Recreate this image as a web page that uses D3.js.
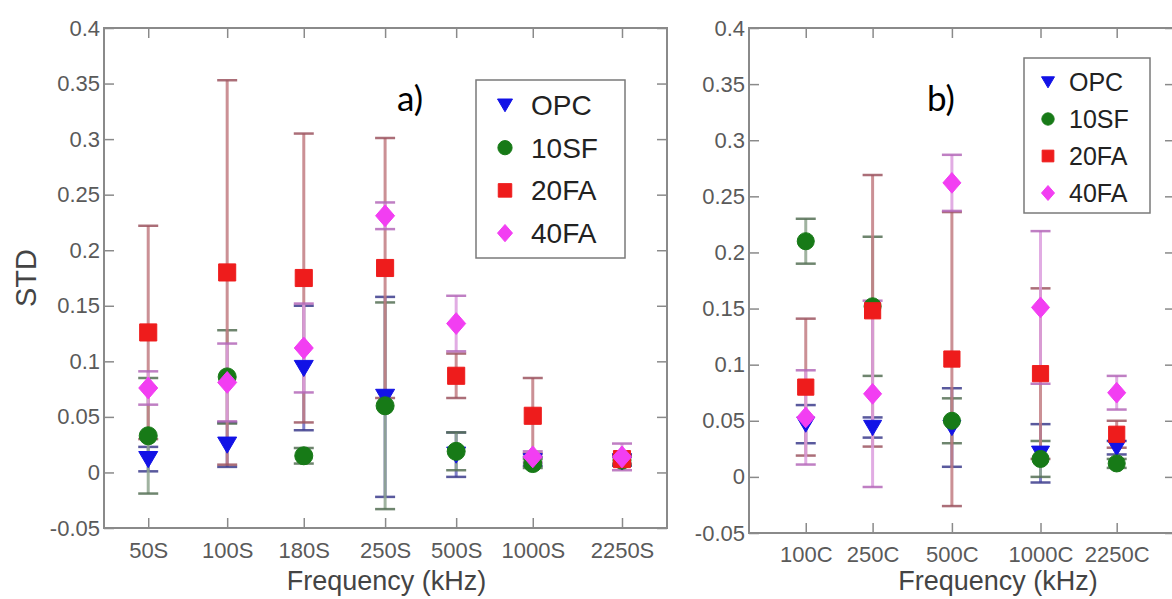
<!DOCTYPE html>
<html>
<head>
<meta charset="utf-8">
<script src="https://cdn.jsdelivr.net/npm/d3@7"></script>
<style>
  body { margin: 0; background: #fff; }
  svg { display: block; }
</style>
</head>
<body>
<svg id="chart" width="1172" height="599"></svg>
<script>
// ---- data, panel a) ----
var categoriesA = ['50S', '100S', '180S', '250S', '500S', '1000S', '2250S'];
var xPosA = [1, 2, 2.97, 4, 4.9, 5.87, 7];   // where MATLAB put each group
var opcA     = [0.012, 0.025, 0.094, 0.068, 0.016, 0.010, 0.010];
var opcErrA  = [0.011, 0.020, 0.056, 0.090, 0.020, 0.004, 0.004];
var sf10A    = [0.033, 0.086, 0.015, 0.060, 0.019, 0.008, 0.011];
var sf10ErrA = [0.052, 0.042, 0.007, 0.093, 0.017, 0.004, 0.004];
var fa20A    = [0.126, 0.180, 0.175, 0.184, 0.087, 0.051, 0.012];
var fa20ErrA = [0.096, 0.173, 0.130, 0.117, 0.020, 0.034, 0.004];
var fa40A    = [0.076, 0.081, 0.112, 0.231, 0.134, 0.014, 0.014];
var fa40ErrA = [0.015, 0.035, 0.040, 0.012, 0.025, 0.005, 0.012];

// ---- data, panel b) ----
var categoriesB = ['100C', '250C', '500C', '1000C', '2250C'];
var xPosB = [1, 1.86, 2.88, 4.02, 5];
var opcB     = [0.047, 0.044, 0.044, 0.021, 0.026];
var opcErrB  = [0.017, 0.009, 0.035, 0.026, 0.006];
var sf10B    = [0.210, 0.152, 0.050, 0.016, 0.012];
var sf10ErrB = [0.020, 0.062, 0.020, 0.016, 0.004];
var fa20B    = [0.080, 0.148, 0.105, 0.092, 0.038];
var fa20ErrB = [0.061, 0.121, 0.131, 0.076, 0.012];
var fa40B    = [0.053, 0.074, 0.262, 0.151, 0.075];
var fa40ErrB = [0.042, 0.083, 0.025, 0.068, 0.015];

var seriesNames = ['OPC', '10SF', '20FA', '40FA'];
var yTicks = [-0.05, 0, 0.05, 0.1, 0.15, 0.2, 0.25, 0.3, 0.35, 0.4];
var yTickLabels = ['-0.05', '0', '0.05', '0.1', '0.15', '0.2', '0.25', '0.3', '0.35', '0.4'];

var styles = {
    'OPC':  {fill: '#1212e6', err: '#6a6ac0', cap: '#3c3c8c', shape: 'tri'},
    '10SF': {fill: '#177a17', err: '#8fa68f', cap: '#557055', shape: 'circle'},
    '20FA': {fill: '#ee1c1c', err: '#c27c82', cap: '#9c5560', shape: 'square'},
    '40FA': {fill: '#f23ef2', err: '#dc9ede', cap: '#b468b8', shape: 'diamond'}
};

var svg = d3.select('#chart');
svg.append('rect').attr('width', 1172).attr('height', 599).attr('fill', '#fff');

var axisColor = '#8a8a8a';
var tickFont = 'Liberation Sans, Arial, sans-serif';

function markerPath(shape, s){
    // s = rough marker width in px
    var h = s / 2;
    if (shape == 'tri'){
        return 'M' + (-h) + ',' + (-h * 0.8) + 'L' + h + ',' + (-h * 0.8) + 'L0,' + (h * 0.9) + 'Z';
    } else if (shape == 'square'){
        var q = h * 0.9;
        return 'M' + (-q) + ',' + (-q) + 'H' + q + 'V' + q + 'H' + (-q) + 'Z';
    } else if (shape == 'diamond'){
        return 'M0,' + (-h * 1.15) + 'L' + h + ',0L0,' + (h * 1.15) + 'L' + (-h) + ',0Z';
    }
    return d3.symbol().type(d3.symbolCircle).size(Math.PI * h * h * 0.9)();
}

function drawPanel(p){
    var x = d3.scaleLinear().domain(p.xDomain).range([p.left, p.right]);
    var y = d3.scaleLinear().domain([-0.05, 0.4]).range([p.bottom, p.top]);
    var g = svg.append('g');

    // axes with inward ticks
    var left = g.append('g').attr('transform', 'translate(' + p.left + ',0)')
        .call(d3.axisLeft(y).tickValues(yTicks).tickSize(-10).tickSizeOuter(0).tickPadding(4)
            .tickFormat(function(d, i){ return yTickLabels[i]; }));
    var right = g.append('g').attr('transform', 'translate(' + p.right + ',0)')
        .call(d3.axisRight(y).tickValues(yTicks).tickSize(-10).tickSizeOuter(0).tickFormat(''));
    var bottom = g.append('g').attr('transform', 'translate(0,' + p.bottom + ')')
        .call(d3.axisBottom(x).tickValues(p.xPos).tickSize(-10).tickSizeOuter(0).tickPadding(p.xPad)
            .tickFormat(function(d, i){ return p.cats[i]; }));
    var top = g.append('g').attr('transform', 'translate(0,' + p.top + ')')
        .call(d3.axisTop(x).tickValues(p.xPos).tickSize(-10).tickSizeOuter(0).tickFormat(''));
    [left, right, bottom, top].forEach(function(a){
        a.select('.domain').remove();
        a.selectAll('line').attr('stroke', axisColor).attr('stroke-width', 1.5);
        a.selectAll('text').attr('font-family', tickFont).attr('font-size', 22).attr('fill', '#5a5a5a');
    });
    g.append('rect')
        .attr('x', p.left).attr('y', p.top)
        .attr('width', p.right - p.left).attr('height', p.bottom - p.top)
        .attr('fill', 'none').attr('stroke', axisColor).attr('stroke-width', 2);

    // error bars first, then markers on top
    var eb = g.append('g').attr('class', 'errorbars');
    p.series.forEach(function(s){
        var st = styles[s.name];
        s.vals.forEach(function(v, i){
            var cx = x(p.xPos[i]);
            var e = s.errs[i];
            eb.append('line')
                .attr('x1', cx).attr('x2', cx)
                .attr('y1', y(v - e)).attr('y2', y(v + e))
                .attr('stroke', st.err).attr('stroke-width', 3).attr('stroke-opacity', 0.85);
            [v - e, v + e].forEach(function(c){
                eb.append('line')
                    .attr('x1', cx - 10).attr('x2', cx + 10)
                    .attr('y1', y(c)).attr('y2', y(c))
                    .attr('stroke', st.cap).attr('stroke-width', 2.5).attr('stroke-opacity', 0.85);
            });
        });
    });
    var mk = g.append('g').attr('class', 'markers');
    p.series.forEach(function(s){
        var st = styles[s.name];
        s.vals.forEach(function(v, i){
            mk.append('path')
                .attr('d', markerPath(st.shape, p.markerSize))
                .attr('transform', 'translate(' + x(p.xPos[i]) + ',' + y(v) + ')')
                .attr('fill', st.fill).attr('stroke', st.fill).attr('stroke-width', 1);
        });
    });

    // labels
    g.append('text')
        .attr('x', (p.left + p.right) / 2 + p.xLabelShift).attr('y', 590)
        .attr('text-anchor', 'middle')
        .attr('font-family', tickFont).attr('font-size', 27).attr('fill', '#444')
        .text('Frequency (kHz)');
    g.append('text')
        .attr('x', p.tagX).attr('y', 111)
        .attr('font-family', 'Lato, sans-serif').attr('font-size', 35).attr('fill', '#000')
        .text(p.tag);

    // legend
    var lg = g.append('g');
    lg.append('rect')
        .attr('x', p.legend.x).attr('y', p.legend.y)
        .attr('width', p.legend.w).attr('height', p.legend.h)
        .attr('fill', '#fff').attr('stroke', '#7a7a7a').attr('stroke-width', 1.5);
    seriesNames.forEach(function(n, i){
        var ly = p.legend.first + i * p.legend.step;
        lg.append('path')
            .attr('d', markerPath(styles[n].shape, p.legend.marker))
            .attr('transform', 'translate(' + p.legend.mx + ',' + ly + ')')
            .attr('fill', styles[n].fill).attr('stroke', styles[n].fill);
        lg.append('text')
            .attr('x', p.legend.tx).attr('y', ly + p.legend.fs * 0.36)
            .attr('font-family', tickFont).attr('font-size', p.legend.fs).attr('fill', '#222')
            .text(n);
    });
}

drawPanel({
    left: 104, right: 667, top: 28, bottom: 528,
    xDomain: [0.44, 7.57], xPos: xPosA, cats: categoriesA, xPad: 14,
    markerSize: 19, xLabelShift: 1, tag: 'a)', tagX: 397,
    series: [
        {name: 'OPC', vals: opcA, errs: opcErrA},
        {name: '10SF', vals: sf10A, errs: sf10ErrA},
        {name: '20FA', vals: fa20A, errs: fa20ErrA},
        {name: '40FA', vals: fa40A, errs: fa40ErrA}
    ],
    legend: {x: 476, y: 80, w: 149, h: 178, first: 105, step: 42.7, mx: 505, tx: 531, fs: 28, marker: 15}
});

drawPanel({
    left: 749, right: 1175, top: 28, bottom: 533,
    xDomain: [0.27, 5.75], xPos: xPosB, cats: categoriesB, xPad: 13,
    markerSize: 18, xLabelShift: 36, tag: 'b)', tagX: 927,
    series: [
        {name: 'OPC', vals: opcB, errs: opcErrB},
        {name: '10SF', vals: sf10B, errs: sf10ErrB},
        {name: '20FA', vals: fa20B, errs: fa20ErrB},
        {name: '40FA', vals: fa40B, errs: fa40ErrB}
    ],
    legend: {x: 1024, y: 58, w: 126, h: 155, first: 82, step: 37, mx: 1048, tx: 1069, fs: 25, marker: 13}
});

// y axis title, left panel only
svg.append('text')
    .attr('transform', 'translate(36,278) rotate(-90)')
    .attr('text-anchor', 'middle')
    .attr('font-family', tickFont).attr('font-size', 29).attr('fill', '#444')
    .text('STD');
</script>
</body>
</html>
